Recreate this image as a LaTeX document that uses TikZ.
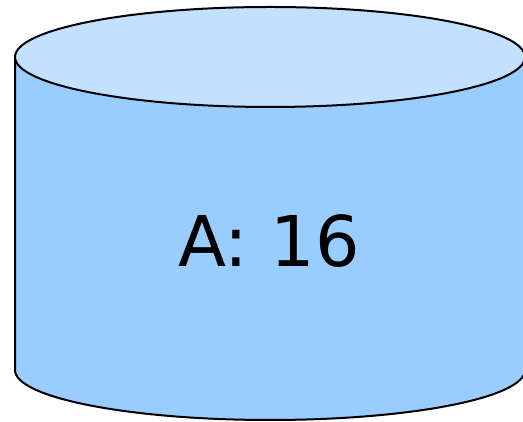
\documentclass[tikz,border=0pt]{standalone}
\usepackage{fontspec}
\setmainfont{DejaVu Sans}
\usetikzlibrary{positioning}
\definecolor{bodyblue}{HTML}{99CCFF}
\definecolor{topblue}{HTML}{C2E0FF}

\begin{document}
\begin{tikzpicture}[x=1pt,y=1pt,
  edge/.style={draw=black,line width=2pt,line join=round},
  lbl/.style={font=\fontsize{70}{84}\selectfont,inner sep=0pt}]
\useasboundingbox (0,0) rectangle (523,422);
% cylinder: body first, then the top lid over it
\path[edge,fill=bodyblue] (15,365) -- (15,52)
  arc[start angle=180,end angle=360,x radius=255,y radius=50]
  -- (525,365) -- cycle;
\path[edge,fill=topblue] (270,365) ellipse[x radius=255,y radius=50];
\node[lbl] (val) at (269,181) {A: 16};
\end{tikzpicture}
\end{document}
